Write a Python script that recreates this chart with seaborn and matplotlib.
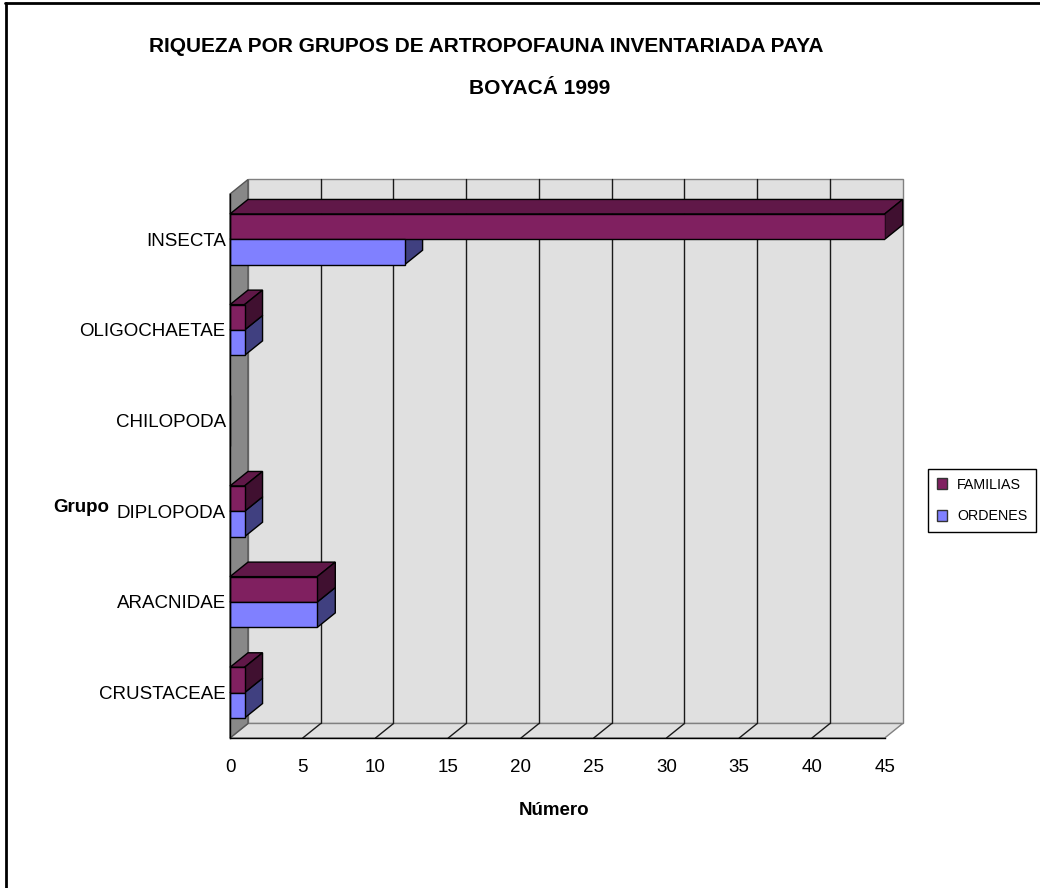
import matplotlib
matplotlib.use("Agg")
import matplotlib.pyplot as plt
from matplotlib.patches import Polygon, Patch
from matplotlib.lines import Line2D
import numpy as np
import pandas as pd
import seaborn as sns

# Riqueza de artropofauna inventariada, Paya (Boyacá) 1999
grupos = ["INSECTA", "OLIGOCHAETAE", "CHILOPODA", "DIPLOPODA", "ARACNIDAE", "CRUSTACEAE"]
familias = [45, 1, 0, 1, 6, 1]
ordenes = [12, 1, 0, 1, 6, 1]
series = ["FAMILIAS", "ORDENES"]
colores = {"FAMILIAS": "#802060", "ORDENES": "#8080FF"}
xticks = [0, 5, 10, 15, 20, 25, 30, 35, 40, 45]

df = pd.DataFrame({
    "Grupo": grupos * 2,
    "Número": familias + ordenes,
    "Serie": ["FAMILIAS"] * len(grupos) + ["ORDENES"] * len(grupos),
})

sns.set_style("white")
plt.rcParams["font.family"] = ["Liberation Sans", "DejaVu Sans"]
plt.rcParams.update({
    "text.color": "black",
    "axes.labelcolor": "black",
    "xtick.color": "black",
    "ytick.color": "black",
})

W, H = 1040, 888
fig = plt.figure(figsize=(W / 100, H / 100), dpi=100)

# front plane of the 3D box, in pixels
x_left, x_right, y_top, y_bot = 230, 884.7, 194, 738
ax = fig.add_axes([x_left / W, 1 - y_bot / H, (x_right - x_left) / W, (y_bot - y_top) / H])

sns.barplot(data=df, y="Grupo", x="Número", hue="Serie", order=grupos,
            hue_order=series, palette=colores, orient="h", width=0.56,
            dodge=True, edgecolor="black", linewidth=1, saturation=1,
            legend=False, ax=ax, zorder=3)

xmax = 45
n = len(grupos)
ax.set_xlim(0, xmax)
ax.set_ylim(n - 0.5, -0.5)
ax.set_facecolor("none")

# depth of the box in data units (18 px right, 14.5 px up)
px_x = (x_right - x_left) / xmax
px_y = (y_bot - y_top) / n
dx = 18 / px_x
dy = 14.5 / px_y

wall_col = "#E0E0E0"
edge_gray = "#808080"
yb_top, yb_bot = -0.5 - dy, n - 0.5 - dy

# back wall
ax.add_patch(Polygon([(dx, yb_top), (xmax + dx, yb_top), (xmax + dx, yb_bot), (dx, yb_bot)],
                     closed=True, facecolor=wall_col, edgecolor=edge_gray, lw=1,
                     clip_on=False, zorder=0.5))
# floor
ax.add_patch(Polygon([(0, n - 0.5), (xmax, n - 0.5), (xmax + dx, yb_bot), (dx, yb_bot)],
                     closed=True, facecolor=wall_col, edgecolor=edge_gray, lw=1,
                     clip_on=False, zorder=0.6))
# left wall
ax.add_patch(Polygon([(0, -0.5), (dx, yb_top), (dx, yb_bot), (0, n - 0.5)],
                     closed=True, facecolor="#888888", edgecolor="#555555", lw=1,
                     clip_on=False, zorder=0.7))
# grid lines on back wall and floor
for v in xticks[1:-1]:
    ax.plot([v + dx, v + dx], [yb_top, yb_bot], color="#1a1a1a", lw=1,
            clip_on=False, zorder=1)
    ax.plot([v, v + dx], [n - 0.5, yb_bot], color="#1a1a1a", lw=1,
            clip_on=False, zorder=1)

# top and side faces of each bar, lower bars first
bars = [p for p in ax.patches if getattr(p, "get_width", None) and p.get_width() > 0
        and p.get_zorder() == 3]
bars.sort(key=lambda p: -p.get_y())
for p in bars:
    x0, w, y0, h = p.get_x(), p.get_width(), p.get_y(), p.get_height()
    fc = np.array(p.get_facecolor()[:3])
    top = Polygon([(x0, y0), (x0 + w, y0), (x0 + w + dx, y0 - dy), (x0 + dx, y0 - dy)],
                  closed=True, facecolor=fc * 0.75, edgecolor="black", lw=1,
                  clip_on=False, zorder=2)
    side = Polygon([(x0 + w, y0), (x0 + w + dx, y0 - dy), (x0 + w + dx, y0 + h - dy),
                    (x0 + w, y0 + h)],
                   closed=True, facecolor=fc * 0.5, edgecolor="black", lw=1,
                   clip_on=False, zorder=2)
    ax.add_patch(top)
    ax.add_patch(side)

# axes
for s in ["top", "right"]:
    ax.spines[s].set_visible(False)
for s in ["left", "bottom"]:
    ax.spines[s].set_color("black")
    ax.spines[s].set_linewidth(1)
    ax.spines[s].set_zorder(4)

ax.set_xticks(xticks)
ax.set_xticklabels([str(t) for t in xticks], fontsize=13.5)
ax.tick_params(axis="x", direction="out", length=7, width=1, color="black", pad=8)
ax.set_yticks(range(n))
ax.set_yticklabels(grupos, fontsize=13.5)
ax.tick_params(axis="y", which="major", length=0, pad=3)
ax.set_yticks(np.arange(-0.5, n, 1.0), minor=True)
ax.tick_params(axis="y", which="minor", direction="out", length=9.5, width=1, color="black")
ax.set_xlabel("")
ax.set_ylabel("")

# titles and axis names
fig.text(486 / W, 1 - 47 / H, "RIQUEZA POR GRUPOS DE ARTROPOFAUNA INVENTARIADA PAYA",
         ha="center", va="center", fontsize=15, fontweight="bold")
fig.text(540 / W, 1 - 89 / H, "BOYACÁ 1999", ha="center", va="center",
         fontsize=15, fontweight="bold")
fig.text(554 / W, 1 - 810 / H, "Número", ha="center", va="center",
         fontsize=13.5, fontweight="bold")
fig.text(81 / W, 1 - 507 / H, "Grupo", ha="center", va="center",
         fontsize=13.5, fontweight="bold")

# legend
handles = [Patch(facecolor=colores[s], edgecolor="#333333", lw=1, label=s) for s in series]
leg = fig.legend(handles=handles, loc="upper left",
                 bbox_to_anchor=(928 / W, 1 - 469 / H), fontsize=10.3,
                 frameon=True, fancybox=False, edgecolor="black", framealpha=1,
                 handlelength=0.75, handleheight=0.75, handletextpad=0.7,
                 labelspacing=1.25, borderpad=0.6, borderaxespad=0)
leg.get_frame().set_linewidth(1)

# outer frame
fig.add_artist(Line2D([5 / W, 1], [1 - 3 / H, 1 - 3 / H], color="black", lw=2))
fig.add_artist(Line2D([6 / W, 6 / W], [0, 1 - 3 / H], color="black", lw=2))

fig.savefig("out.png", dpi=100)
